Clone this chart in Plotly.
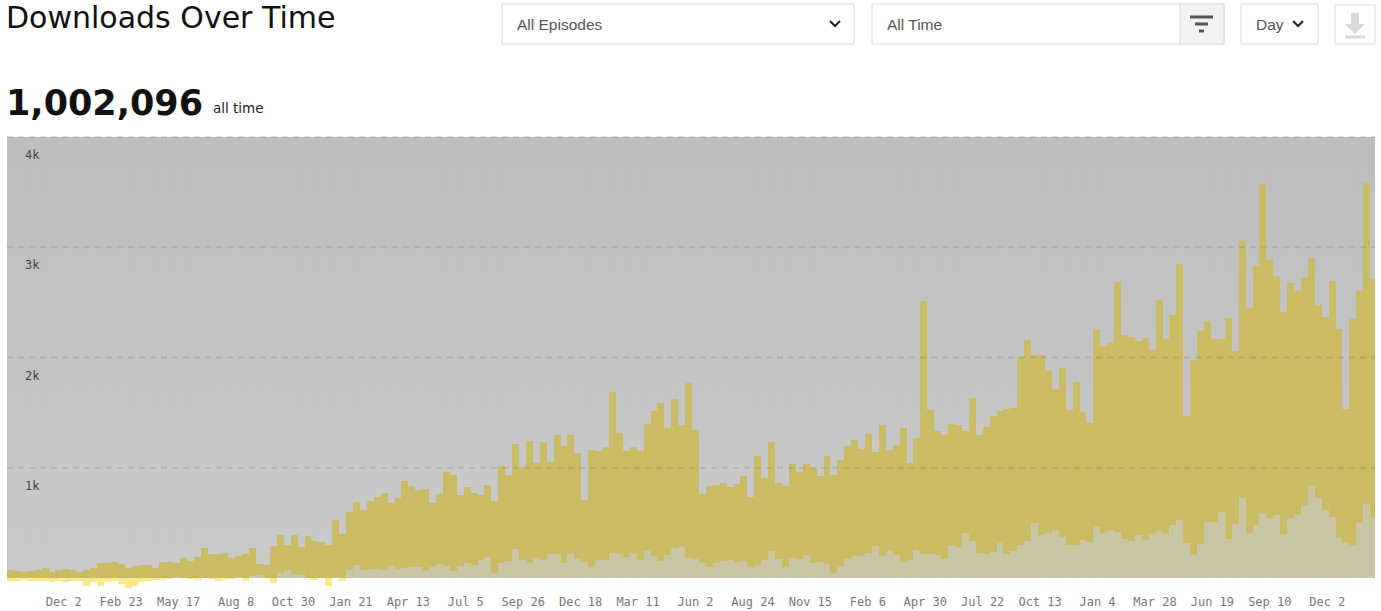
import pandas as pd
import plotly.graph_objects as go

W, H = 1381, 611

# downloads per 10 day bucket, upper edge of the band
top = [70, 60, 57, 60, 70, 90, 55, 75, 85, 70,
       55, 70, 90, 135, 135, 145, 127, 90, 105, 120,
       120, 90, 148, 148, 136, 178, 154, 187, 272, 217,
       217, 226, 181, 202, 220, 269, 130, 120, 287, 387,
       300, 387, 278, 383, 332, 326, 296, 529, 402, 601,
       689, 619, 695, 734, 773, 676, 722, 876, 830, 800,
       806, 680, 761, 957, 936, 749, 824, 770, 755, 846,
       695, 1012, 936, 1214, 1009, 1240, 1039, 1232, 1054, 1296,
       1196, 1293, 1135, 707, 1160, 1151, 1184, 1688, 1314, 1151,
       1184, 1151, 1401, 1513, 1585, 1359, 1619, 1392, 1773, 1344,
       761, 834, 843, 858, 828, 852, 924, 731, 1108, 909,
       1232, 858, 834, 1036, 963, 1033, 994, 924, 1102, 930,
       1069, 1196, 1256, 1169, 1305, 1139, 1386, 1160, 1205, 1359,
       1042, 1268, 2510, 1528, 1332, 1296, 1395, 1386, 1332, 1631,
       1293, 1374, 1471, 1513, 1537, 1543, 2005, 2156, 2023, 2020,
       1878, 1712, 1903, 1528, 1782, 1507, 1407, 2262, 2102, 2132,
       2682, 2205, 2189, 2147, 2180, 2066, 2525, 2165, 2389, 2851,
       1468, 1975, 2238, 2334, 2171, 2171, 2359, 2057, 3056, 2446,
       2833, 3576, 2881, 2736, 2416, 2676, 2603, 2730, 2899, 2473,
       2365, 2691, 2262, 1534, 2347, 2600, 3582, 2715]

# lower edge of the band, dips under zero early on
low = [-24, -24, -18, -30, -24, -30, -39, -24, -33, -24,
       -30, -69, -39, -69, -33, -24, -51, -90, -69, -39,
       -30, -15, -15, -9, 6, 0, -6, -15, 0, -9,
       -30, -15, -9, 9, -30, 15, 24, 0, -45, 45,
       69, 39, 24, 0, -21, 0, -69, 9, -30, 69,
       118, 69, 81, 81, 75, 105, 81, 94, 100, 100,
       60, 97, 124, 105, 60, 109, 136, 121, 166, 190,
       45, 139, 154, 260, 163, 136, 184, 163, 220, 220,
       139, 223, 169, 148, 103, 163, 166, 229, 217, 190,
       223, 163, 247, 199, 157, 205, 271, 277, 184, 172,
       139, 103, 133, 157, 163, 142, 157, 103, 118, 163,
       247, 169, 97, 178, 169, 208, 133, 148, 127, 42,
       97, 169, 202, 199, 223, 290, 202, 248, 208, 148,
       163, 254, 217, 217, 208, 169, 299, 284, 405, 338,
       229, 220, 239, 314, 217, 245, 299, 335, 495, 390,
       405, 435, 374, 299, 299, 344, 329, 465, 405, 435,
       420, 356, 335, 390, 344, 402, 426, 402, 480, 525,
       320, 205, 305, 507, 507, 598, 353, 486, 722, 405,
       480, 586, 541, 568, 399, 547, 571, 661, 834, 722,
       616, 550, 374, 320, 299, 501, 667, 556]

tick_dates = ["2018-12-02", "2019-02-23", "2019-05-17", "2019-08-08", "2019-10-30",
              "2020-01-21", "2020-04-13", "2020-07-05", "2020-09-26", "2020-12-18",
              "2021-03-11", "2021-06-02", "2021-08-24", "2021-11-15", "2022-02-06",
              "2022-04-30", "2022-07-22", "2022-10-13", "2023-01-04", "2023-03-28",
              "2023-06-19", "2023-09-10", "2023-12-02"]
tick_text = ["Dec 2", "Feb 23", "May 17", "Aug 8", "Oct 30", "Jan 21", "Apr 13", "Jul 5",
             "Sep 26", "Dec 18", "Mar 11", "Jun 2", "Aug 24", "Nov 15", "Feb 6", "Apr 30",
             "Jul 22", "Oct 13", "Jan 4", "Mar 28", "Jun 19", "Sep 10", "Dec 2"]
y_ticks = [1000, 2000, 3000, 4000]
y_text = ["1k", "2k", "3k", "4k"]

start, end = "2018-09-11", "2024-02-09"
buckets = pd.date_range("2018-09-16", periods=len(top), freq="10D")
days = pd.date_range(start, end, freq="D")
DAY = 86400000

# panel shading, bottom to top
panel_edges = [0, 250, 500, 750, 1000, 1250, 1500, 1750, 2000, 2250, 2500, 2750, 3000, 3250, 3500, 3750, 4000]
panel_shade = [[16], [15], [14], [13], [12], [11], [10], [9], [8], [7], [6], [5], [4], [3], [2], [1]]


def px(x):
    return x / W


def py(y):
    return 1 - y / H


def box(x0, y0, x1, y1, fill="white", line="#d9d9d9"):
    return dict(type="rect", xref="paper", yref="paper", x0=px(x0), x1=px(x1), y0=py(y0), y1=py(y1),
                fillcolor=fill, line=dict(color=line, width=1))


def poly(points, fill=None, line=None, width=2):
    path = "M " + " L ".join(f"{px(a):.5f},{py(b):.5f}" for a, b in points)
    if fill:
        path += " Z"
    return dict(type="path", xref="paper", yref="paper", path=path, fillcolor=fill,
                line=dict(color=line or "rgba(0,0,0,0)", width=width))


def label(x, y, text, size, color="#555", family="Liberation Sans", bold=False):
    if bold:
        text = f"<b>{text}</b>"
    return dict(xref="paper", yref="paper", x=px(x), y=py(y), text=text, showarrow=False,
                xanchor="left", yanchor="middle", xshift=-1, font=dict(size=size, color=color, family=family))


fig = go.Figure()

# grey panel, a little darker at the top
fig.add_trace(go.Heatmap(x=[start, end], y=panel_edges, z=panel_shade, showscale=False, hoverinfo="skip",
                         colorscale=[[0, "#bdbdbd"], [1, "#c9c9c9"]]))
fig.add_trace(go.Bar(x=buckets, y=top, width=10 * DAY, marker=dict(color="#c9bb62", line_width=0)))
fig.add_trace(go.Bar(x=buckets, y=[max(v, 0) for v in low], width=10 * DAY,
                     marker=dict(color="#c9c5a3", line_width=0)))
fig.add_trace(go.Bar(x=buckets, y=[min(v, 0) for v in low], width=10 * DAY,
                     marker=dict(color="#fde88a", line_width=0)))
# thin daily stripes over everything
fig.add_trace(go.Bar(x=days, y=[4000] * len(days), width=0.5 * DAY,
                     marker=dict(color="rgba(255,255,255,0.04)", line_width=0)))

shapes = [dict(type="line", xref="paper", yref="y", x0=px(7), x1=px(1375), y0=v, y1=v,
               line=dict(color="rgba(0,0,0,0.09)", width=2, dash="6px,5px")) for v in y_ticks]

shapes += [box(502, 4, 854, 44), box(872, 4, 1224, 44), box(1180, 4, 1224, 44, fill="#f2f2f2"),
           box(1241, 4, 1318, 44), box(1335, 5, 1375, 44)]
shapes += [poly([(830, 21), (835, 26), (840, 21)], line="#222"),
           poly([(1293, 21), (1298, 26), (1303, 21)], line="#222")]
shapes += [poly([(1190, 17), (1213, 17)], line="#555", width=3),
           poly([(1195, 24), (1208, 24)], line="#555", width=3),
           poly([(1199, 31), (1204, 31)], line="#555", width=3)]
shapes += [poly([(1351, 13), (1359, 13), (1359, 24), (1365, 24), (1355, 34), (1345, 24), (1351, 24)], fill="#d9d9d9"),
           poly([(1345, 37), (1365, 37)], line="#d9d9d9", width=3)]

annotations = [label(5, 18, "Downloads Over Time", 30, color="#111", family="DejaVu Sans"),
               label(5, 103, "1,002,096", 35, color="#111", family="DejaVu Sans", bold=True),
               label(212, 108, "all time", 13.5, color="#222", family="DejaVu Sans"),
               label(516, 25, "All Episodes", 15.5),
               label(886, 25, "All Time", 15.5),
               label(1255, 25, "Day", 15.5)]

fig.update_layout(
    width=W, height=H, margin=dict(l=0, r=0, t=0, b=0, pad=0),
    paper_bgcolor="white", plot_bgcolor="white", barmode="overlay", bargap=0,
    showlegend=False, shapes=shapes, annotations=annotations,
    font=dict(family="DejaVu Sans Mono", size=12, color="#777"),
)
fig.update_xaxes(domain=[px(7), px(1375)], type="date", range=[start, end], tickmode="array",
                 tickvals=tick_dates, ticktext=tick_text, showgrid=False, zeroline=False,
                 showline=False, ticks="", tickangle=0, ticklabelstandoff=1)
fig.update_yaxes(domain=[py(592), py(130)], range=[-127, 4063], tickmode="array", tickvals=y_ticks,
                 ticktext=y_text, showgrid=False, zeroline=False, showline=False, ticks="",
                 ticklabelposition="inside", ticklabelstandoff=15, ticklabelshift=18)

fig.write_html("out.html", config={"displayModeBar": False},
               post_script="document.body.style.margin = '0';")
